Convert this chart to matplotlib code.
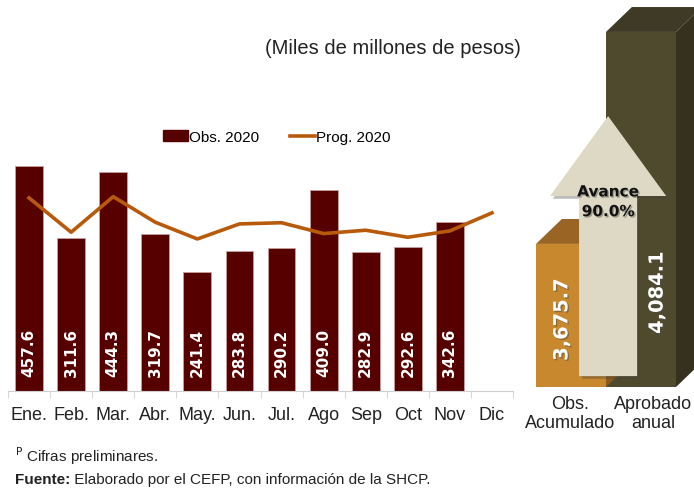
import numpy as np
import matplotlib
matplotlib.use("Agg")
import matplotlib.pyplot as plt
from matplotlib.patches import Polygon, FancyArrow, Patch
from matplotlib.lines import Line2D
import matplotlib.patheffects as pe

plt.rcParams['font.family'] = ['Liberation Sans', 'DejaVu Sans']

months = ["Ene.", "Feb.", "Mar.", "Abr.", "May.", "Jun.", "Jul.", "Ago", "Sep", "Oct", "Nov", "Dic"]
obs_2020 = [457.6, 311.6, 444.3, 319.7, 241.4, 283.8, 290.2, 409.0, 282.9, 292.6, 342.6]
prog_2020 = [392.5, 322.7, 395.0, 343.0, 309.0, 339.6, 342.0, 320.0, 326.8, 312.5, 325.4, 362.0]

summary_labels = ["Obs.\nAcumulado", "Aprobado\nanual"]
summary_values = [3675.7, 4084.1]
avance_pct = 90.0

bar_color = "#560000"
line_color = "#B85A0C"
txt_color = "#222222"

W, H = 694, 489
fig = plt.figure(figsize=(W / 100, H / 100), dpi=100)

# ---- monthly chart
ax = fig.add_axes([8 / W, (H - 392) / H, 505 / W, 246 / H])
x = np.arange(len(months))
ax.bar(x[:len(obs_2020)], obs_2020, width=0.66, color=bar_color,
       edgecolor="#C9A0A0", linewidth=0.6, zorder=2)
ax.plot(x, prog_2020, color=line_color, linewidth=2.6, zorder=3)
for i, v in enumerate(obs_2020):
    ax.text(i, 30, f"{v:.1f}", rotation=90, ha="center", va="bottom",
            color="white", fontsize=11, fontweight="bold",
            family=["DejaVu Sans"], zorder=4)

ax.set_xlim(-0.5, len(months) - 0.5)
ax.set_ylim(0, 500)
ax.set_xticks(x)
ax.set_xticklabels(months, fontsize=13, color=txt_color)
ax.tick_params(axis="x", which="major", length=0, pad=11)
ax.set_xticks(np.arange(-0.5, len(months)), minor=True)
ax.tick_params(axis="x", which="minor", length=5, color="#D0D0D0")
ax.set_yticks([])
for s in ["top", "right", "left"]:
    ax.spines[s].set_visible(False)
ax.spines["bottom"].set_color("#D0D0D0")

handles = [Patch(facecolor=bar_color, edgecolor=bar_color),
           Line2D([0], [0], color=line_color, linewidth=2.6)]
fig.legend(handles, ["Obs. 2020", "Prog. 2020"], loc="center",
           bbox_to_anchor=(277 / W, (H - 138) / H), ncol=2, frameon=False,
           fontsize=11, handlelength=1.6, handletextpad=0.1, columnspacing=2.0)

fig.text(393 / W, (H - 48) / H, "(Miles de millones de pesos)", ha="center",
         va="center", fontsize=14.5, color=txt_color)

# footnotes
fig.text(15 / W, (H - 456) / H, "$^{\\mathrm{P}}$ Cifras preliminares.", ha="left",
         va="center", fontsize=11, color=txt_color)
src = fig.text(15 / W, (H - 480) / H, "Fuente:", ha="left", va="center",
               fontsize=11, fontweight="bold", color=txt_color)
ax.annotate(" Elaborado por el CEFP, con información de la SHCP.", xy=(1, 0.5),
            xycoords=src, ha="left", va="center", fontsize=11, color=txt_color)

# ---- 3D summary boxes
ax2 = fig.add_axes([536 / W, (H - 388) / H, 158 / W, 388 / H])
ybase = 3400
ax2.set_xlim(-0.5, -0.5 + 158 / 70)
ax2.set_ylim(ybase, ybase + 388 / 0.519)
ax2.axis("off")

front = ["#C8882E", "#4F4A2E"]
top = ["#9A6424", "#3F3A26"]
side = ["#8A5A1E", "#36311E"]
ddx, ddy = 0.37, 48
for i, v in enumerate(summary_values):
    z = 2 - i * 0.5
    ax2.bar(i, v - ybase, bottom=ybase, width=1.0, color=front[i], zorder=z)
    l, r = i - 0.5, i + 0.5
    ax2.add_patch(Polygon([[l, v], [l + ddx, v + ddy], [r + ddx, v + ddy], [r, v]],
                          closed=True, facecolor=top[i], edgecolor="none", zorder=z))
    ax2.add_patch(Polygon([[r, ybase], [r + ddx, ybase + ddy], [r + ddx, v + ddy], [r, v]],
                          closed=True, facecolor=side[i], edgecolor="none", zorder=z))

# avance arrow
arrow = FancyArrow(0.53, 3421, 0, 501, width=0.83, head_width=1.66, head_length=154,
                   length_includes_head=True, facecolor="#DDD9C4", edgecolor="none",
                   zorder=5)
arrow.set_path_effects([pe.SimplePatchShadow(offset=(2, -2), alpha=0.35), pe.Normal()])
ax2.add_patch(arrow)
ax2.text(0.53, 3757, f"Avance\n{avance_pct:.1f}%", ha="center", va="center",
         fontsize=11, fontweight="bold", color="#111111", linespacing=1.4,
         family=["DejaVu Sans"], zorder=6,
         path_effects=[pe.withSimplePatchShadow(offset=(1, -1), alpha=0.3)])

val_pos = [(-0.13, 3530), (1.23, 3582)]
for (px, py), v in zip(val_pos, summary_values):
    ax2.text(px, py, f"{v:,.1f}", rotation=90, ha="center", va="center",
             fontsize=14, fontweight="bold", color="white", family=["DejaVu Sans"],
             zorder=7, path_effects=[pe.withSimplePatchShadow(offset=(1, -1), alpha=0.5)])

for i, lab in enumerate(summary_labels):
    fig.text((570 + 83 * i) / W, (H - 414) / H, lab, ha="center", va="center",
             fontsize=13, color=txt_color, linespacing=1.2)

fig.savefig("out.png", dpi=100)
